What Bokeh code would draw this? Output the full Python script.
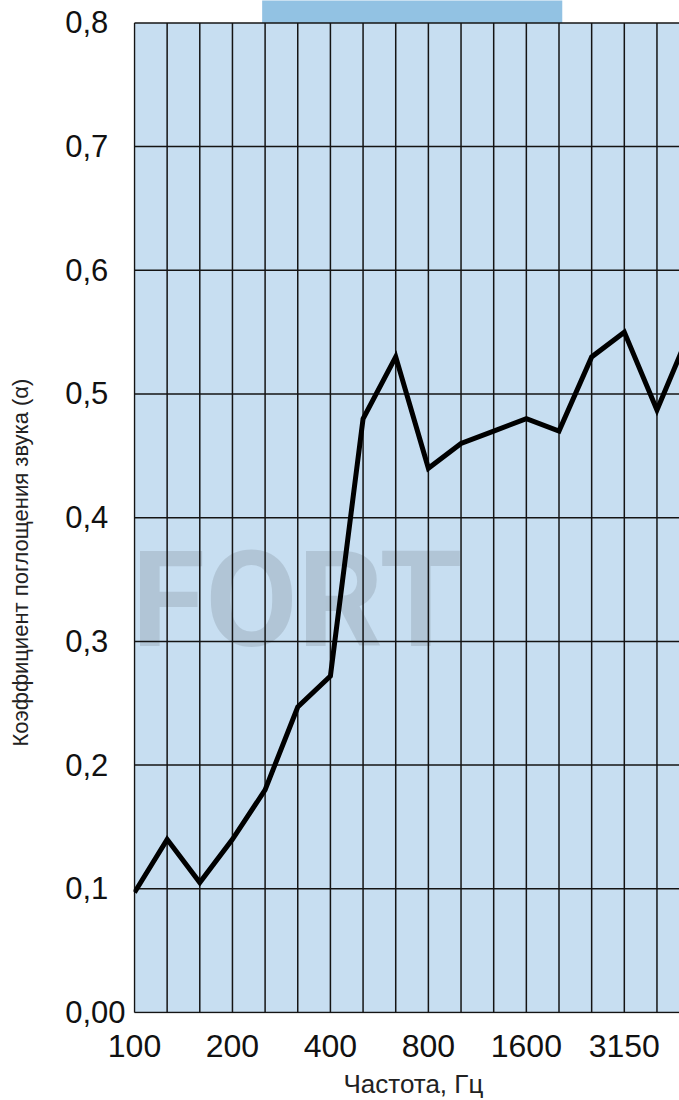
from bokeh.plotting import figure
from bokeh.models import Range1d, FixedTicker, Label, Title
from bokeh.embed import file_html
from bokeh.resources import INLINE

# ---- data ----
freqs = ["100", "125", "160", "200", "250", "315", "400", "500", "630",
         "800", "1000", "1250", "1600", "2000", "2500", "3150", "4000", "5000"]
absorption = [0.097, 0.14, 0.105, 0.14, 0.18, 0.247, 0.272, 0.48, 0.53,
              0.44, 0.46, 0.47, 0.48, 0.47, 0.53, 0.55, 0.487, 0.55]
y_ticks = [0.0, 0.1, 0.2, 0.3, 0.4, 0.5, 0.6, 0.7, 0.8]
y_tick_labels = ["0,00", "0,1", "0,2", "0,3", "0,4", "0,5", "0,6", "0,7", "0,8"]
x_tick_freqs = ["100", "200", "400", "800", "1600", "3150"]

x_title = "Частота, Гц"
y_title = "Коэффициент поглощения звука (α)"
watermark = "FORT"

# ---- style ----
FONT = "Liberation Sans"
BG_BLUE = "#c7def1"
TOP_BLUE = "#92c2e3"
GRID = "#141414"
NBSP = "\u00a0"

idx = list(range(len(freqs)))
y_max = y_ticks[-1]

p = figure(width=679, height=1100,
           x_range=Range1d(-0.03, 16.69),
           y_range=Range1d(-0.0008, 0.8181),
           min_border_left=133, min_border_right=0,
           min_border_top=0, min_border_bottom=87,
           output_backend="svg", toolbar_location=None)

p.background_fill_color = "white"
p.border_fill_color = "white"
p.outline_line_color = None
p.grid.visible = False

# plot-area fill
p.quad(left=[idx[0]], right=[idx[-1]], bottom=[y_ticks[0]], top=[y_max],
       fill_color=BG_BLUE, line_color=None, level="image")
# decorative strip above the plot
p.quad(left=[3.91], right=[13.1], bottom=[y_max], top=[y_max + 0.05],
       fill_color=TOP_BLUE, line_color=None, level="image")

# watermark
p.add_layout(Label(x=329, y=413, x_units="screen", y_units="screen",
                   text=watermark, text_font="Roboto", text_font_style="bold",
                   text_font_size="134px", text_color="black", text_alpha=0.11,
                   text_align="right", text_baseline="alphabetic",
                   level="underlay"))

# grid lines
p.segment(x0=idx, y0=[y_ticks[0]] * len(idx), x1=idx, y1=[y_max] * len(idx),
          line_color=GRID, line_width=1.5)
p.segment(x0=[idx[0]] * len(y_ticks), y0=y_ticks,
          x1=[idx[-1]] * len(y_ticks), y1=y_ticks,
          line_color=GRID, line_width=1.5)

# data line
p.line(idx, absorption, line_width=5, line_color="black", line_join="miter")

# axes (labels are left-aligned in the original: pad short ones)
longest = max(len(s) for s in y_tick_labels)
p.yaxis.ticker = FixedTicker(ticks=y_ticks)
p.yaxis.major_label_overrides = {
    t: s + NBSP * 2 * (longest - len(s)) for t, s in zip(y_ticks, y_tick_labels)}
p.yaxis.major_label_text_font = FONT
p.yaxis.major_label_text_font_size = "31px"
p.yaxis.major_label_text_color = "#111111"
p.yaxis.major_label_standoff = 8

x_tick_pos = [freqs.index(f) for f in x_tick_freqs]
p.xaxis.ticker = FixedTicker(ticks=x_tick_pos)
p.xaxis.major_label_overrides = {i: f for i, f in zip(x_tick_pos, x_tick_freqs)}
p.xaxis.major_label_text_font = FONT
p.xaxis.major_label_text_font_size = "32px"
p.xaxis.major_label_text_color = "#111111"
p.xaxis.major_label_standoff = 21

for ax in (p.xaxis, p.yaxis):
    ax.axis_line_color = None
    ax.major_tick_line_color = None
    ax.minor_tick_line_color = None
    ax.major_tick_out = 0
    ax.major_tick_in = 0


def side_title(text, spaced_text, line_height, fallback_standoff, **kw):
    """Title whose position is tuned with an empty spacer line."""
    t = Title(text=text, text_font=FONT, text_font_style="normal",
              text_color="#222222", **kw)
    try:
        t.text_line_height = line_height
        t.text = spaced_text
        t.standoff = 0
    except AttributeError:
        t.standoff = fallback_standoff
    return t


# axis titles
p.add_layout(side_title(y_title, y_title + "\n", 1.1, 34,
                        align="left", offset=267, vertical_align="top",
                        text_font_size="22px"), "left")
p.add_layout(side_title(x_title, "\n" + x_title, 0.3, 6,
                        align="left", offset=210, vertical_align="top",
                        text_font_size="26px"), "below")

open("out.html", "w").write(file_html(p, INLINE))
